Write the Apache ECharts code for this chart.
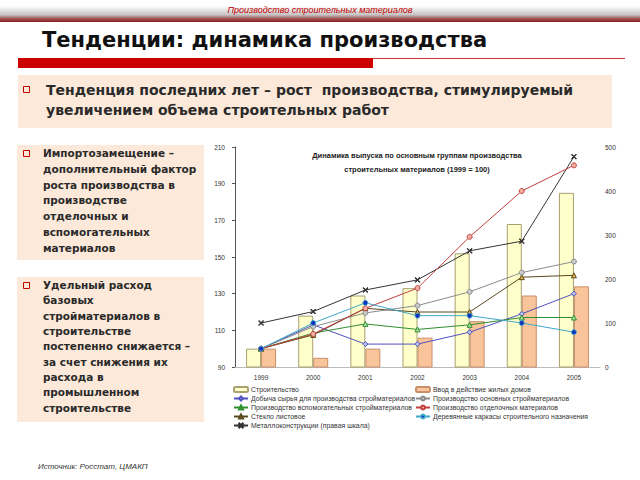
<!DOCTYPE html>
<html><head><meta charset="utf-8">
<script src="https://cdn.jsdelivr.net/npm/echarts/dist/echarts.min.js"></script>
<style>html,body{margin:0;padding:0;background:#fff}#c{width:640px;height:480px}</style>
</head><body><div id="c"></div>
<script>
const years = ['1999','2000','2001','2002','2003','2004','2005'];
const construction = [100, 118, 129, 133, 152, 168, 185];
const housing = [100, 95, 100, 106, 115, 129, 134];
const rawMining = [100, 113, 102.5, 102.5, 109, 119, 130];
const auxMaterials = [100, 108.5, 113.5, 110.5, 113, 117, 117];
const sheetGlass = [100, 107.5, 122, 120, 120, 139, 140];
const metalStructures = [100, 126, 175, 198, 264, 286, 478];
const basicMaterials = [100, 112, 119.5, 123.5, 131, 141.5, 147.5];
const finishingMaterials = [100, 108, 122, 133, 161, 186, 200];
const woodFrames = [100, 114, 125, 118, 118, 114, 109];

const names = {
  construction: 'Строительство',
  housing: 'Ввод в действие жилых домов',
  rawMining: 'Добыча сырья для производства стройматериалов',
  auxMaterials: 'Производство вспомогательных стройматериалов',
  sheetGlass: 'Стекло листовое',
  metalStructures: 'Металлоконструкции (правая шкала)',
  basicMaterials: 'Производство основных стройматериалов',
  finishingMaterials: 'Производство отделочных материалов',
  woodFrames: 'Деревянные каркасы строительного назначения'
};
const chartTitle = 'Динамика выпуска по основным группам производства\nстроительных материалов (1999 = 100)';
const slideHeader = 'Производство строительных материалов';
const slideTitle = 'Тенденции: динамика производства';
const mainPoint = 'Тенденция последних лет – рост  производства, стимулируемый\nувеличением объема строительных работ';
const point1 = 'Импортозамещение –\nдополнительный фактор\nроста производства в\nпроизводстве\nотделочных и\nвспомогательных\nматериалов';
const point2 = 'Удельный расход\nбазовых\nстройматериалов в\nстроительстве\nпостепенно снижается –\nза счет снижения их\nрасхода в\nпромышленном\nстроительстве';
const sourceText = 'Источник: Росстат, ЦМАКП';

const chart = echarts.init(document.getElementById('c'), null, {renderer: 'svg'});
const FF = '"Liberation Sans", Arial, sans-serif';
const BF = '"DejaVu Sans", Verdana, sans-serif';
const xMark = 'path://M0,1L1,0L5,4L9,0L10,1L6,5L10,9L9,10L5,6L1,10L0,9L4,5Z';

function lineSeries(name, data, color, symbol, symColor, yIdx) {
  return {
    name, type: 'line', data, yAxisIndex: yIdx || 0,
    symbol, symbolSize: 5, showSymbol: true,
    lineStyle: {color, width: 1},
    itemStyle: {color: symColor, borderColor: color, borderWidth: 1},
    z: 3
  };
}

const legendText = {fontFamily: FF, fontSize: 6.9, color: '#333', lineHeight: 7, padding: [0,0,0,-2]};

const option = {
  animation: false,
  backgroundColor: '#ffffff',
  title: {
    text: chartTitle, left: 412, top: 143, textAlign: 'center',
    textStyle: {fontFamily: FF, fontSize: 7.5, fontWeight: 'bold', color: '#222', lineHeight: 14}
  },
  grid: {left: 235, right: 40, top: 147, bottom: 113},
  legend: [
    {
      orient: 'vertical', left: 233, top: 386, itemWidth: 14, itemHeight: 5, itemGap: 2,
      textStyle: legendText, padding: 0,
      data: [names.construction, names.rawMining, names.auxMaterials, names.sheetGlass, names.metalStructures]
    },
    {
      orient: 'vertical', left: 415, top: 386, itemWidth: 14, itemHeight: 5, itemGap: 2,
      textStyle: legendText, padding: 0,
      data: [names.housing, names.basicMaterials, names.finishingMaterials, names.woodFrames]
    }
  ],
  xAxis: {
    type: 'category', data: years,
    axisLine: {show: true, lineStyle: {color: '#bbb'}},
    axisTick: {show: false},
    axisLabel: {fontFamily: FF, fontSize: 6.5, color: '#333', margin: 7}
  },
  yAxis: [
    {
      type: 'value', min: 90, max: 210, interval: 20,
      axisLine: {show: true, lineStyle: {color: '#555'}},
      axisTick: {show: true, length: 3, lineStyle: {color: '#555'}},
      splitLine: {show: false},
      axisLabel: {fontFamily: FF, fontSize: 6.5, color: '#333', margin: 10}
    },
    {
      type: 'value', min: 0, max: 500, interval: 100, position: 'right',
      axisLine: {show: false}, axisTick: {show: false},
      splitLine: {show: false},
      axisLabel: {fontFamily: FF, fontSize: 6.5, color: '#333', margin: 5}
    }
  ],
  series: [
    {name: names.construction, type: 'bar', data: construction, barWidth: 15, barGap: '0%',
     itemStyle: {color: '#ffffcc', borderColor: '#a8a070', borderWidth: 1}, z: 1},
    {name: names.housing, type: 'bar', data: housing, barWidth: 15, barGap: '0%',
     itemStyle: {color: '#f9c499', borderColor: '#c8906a', borderWidth: 1}, z: 1},
    lineSeries(names.rawMining, rawMining, '#5050c0', 'diamond', '#b8c4ec'),
    lineSeries(names.auxMaterials, auxMaterials, '#2f8f2f', 'triangle', '#b0e0a0'),
    lineSeries(names.sheetGlass, sheetGlass, '#5a4a20', 'triangle', '#e0b040'),
    lineSeries(names.metalStructures, metalStructures, '#333333', xMark, '#333333', 1),
    lineSeries(names.basicMaterials, basicMaterials, '#8a8a8a', 'circle', '#c8c8c8'),
    lineSeries(names.finishingMaterials, finishingMaterials, '#c04040', 'circle', '#f4b0a0'),
    lineSeries(names.woodFrames, woodFrames, '#40a8c8', 'circle', '#1030c0')
  ],
  graphic: [
    {type: 'rect', shape: {x: 0, y: 6, width: 640, height: 16}, silent: true, z: 0,
     style: {fill: new echarts.graphic.LinearGradient(0, 0, 0, 1, [
       {offset: 0, color: '#ffffff'}, {offset: 0.55, color: '#c4c4c4'}, {offset: 0.8, color: '#a05050'}, {offset: 1, color: '#8a1c1c'}])}},
    {type: 'text', x: 320, y: 10, z: 5,
     style: {text: slideHeader, font: 'italic 9px ' + FF, fill: '#c00000', align: 'center', verticalAlign: 'middle'}},
    {type: 'text', x: 42, y: 40, z: 5,
     style: {text: slideTitle, font: 'bold 21px ' + BF, fill: '#111', verticalAlign: 'middle'}},
    {type: 'rect', shape: {x: 18, y: 58, width: 355, height: 10}, style: {fill: '#cc0000'}},
    {type: 'rect', shape: {x: 373, y: 58, width: 252, height: 1}, style: {fill: '#cc3333'}},
    {type: 'rect', shape: {x: 18, y: 75, width: 594, height: 53}, style: {fill: '#fde9d9'}},
    {type: 'rect', shape: {x: 23.5, y: 86.5, width: 6, height: 6}, style: {fill: 'none', stroke: '#c00000', lineWidth: 1}},
    {type: 'text', x: 46, y: 80, z: 5,
     style: {text: mainPoint, font: 'bold 14px ' + BF, fill: '#2a2a2a', lineHeight: 20}},
    {type: 'rect', shape: {x: 17, y: 145, width: 187, height: 115}, style: {fill: '#fde9d9'}},
    {type: 'rect', shape: {x: 23.5, y: 150.5, width: 6, height: 6}, style: {fill: 'none', stroke: '#c00000', lineWidth: 1}},
    {type: 'text', x: 43, y: 145.5, z: 5,
     style: {text: point1, font: 'bold 10.5px ' + BF, fill: '#2a2a2a', lineHeight: 15.7}},
    {type: 'rect', shape: {x: 17, y: 277, width: 187, height: 145}, style: {fill: '#fde9d9'}},
    {type: 'rect', shape: {x: 23.5, y: 282.5, width: 6, height: 6}, style: {fill: 'none', stroke: '#c00000', lineWidth: 1}},
    {type: 'text', x: 43, y: 277.5, z: 5,
     style: {text: point2, font: 'bold 10.5px ' + BF, fill: '#2a2a2a', lineHeight: 15.3}},
    {type: 'text', x: 38, y: 466, z: 5,
     style: {text: sourceText, font: 'italic 8px ' + FF, fill: '#333', verticalAlign: 'middle'}}
  ]
};
chart.setOption(option);
</script></body></html>
